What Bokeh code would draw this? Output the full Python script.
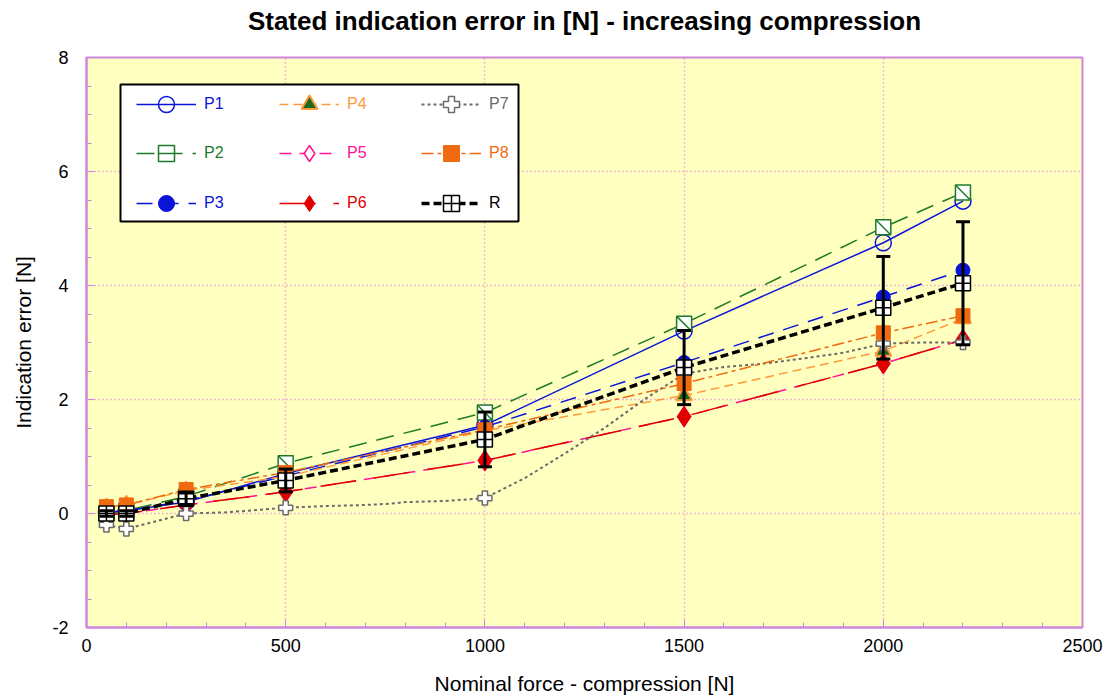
from bokeh.plotting import figure
from bokeh.models import (ColumnDataSource, Legend, LegendItem, Whisker, TeeHead,
                          BoxAnnotation, Range1d, FixedTicker, Label)
from bokeh.embed import file_html
from bokeh.resources import INLINE

# ---------------- data ----------------
force = [50, 100, 250, 500, 1000, 1500, 2000, 2200]
p1 = [0.02, 0.05, 0.20, 0.70, 1.55, 3.20, 4.75, 5.48]
p2 = [0.00, 0.05, 0.30, 0.88, 1.77, 3.33, 5.02, 5.63]
p3 = [0.02, 0.05, 0.22, 0.66, 1.52, 2.65, 3.80, 4.27]
p4 = [0.10, 0.15, 0.40, 0.65, 1.45, 2.07, 2.85, 3.42]
p5 = [-0.02, 0.00, 0.15, 0.38, 0.93, 1.70, 2.63, 3.05]
p6 = [-0.02, 0.00, 0.15, 0.38, 0.93, 1.70, 2.63, 3.05]
p7 = [-0.20, -0.27, 0.00, 0.10, 0.27, 2.45, 2.98, 3.00]
p8 = [0.12, 0.15, 0.42, 0.72, 1.47, 2.28, 3.17, 3.47]
r = [0.00, 0.00, 0.26, 0.58, 1.30, 2.56, 3.61, 4.04]
r_err = [0.05, 0.05, 0.10, 0.20, 0.48, 0.65, 0.90, 1.08]
# P7 curve as drawn
p7_curve_x = [50, 100, 250, 350, 500, 600, 700, 760, 800, 900, 1000, 1100, 1200,
              1300, 1400, 1500, 1600, 1700, 1800, 1900, 2000, 2100, 2200]
p7_curve_y = [-0.20, -0.27, 0.00, 0.02, 0.10, 0.13, 0.15, 0.17, 0.20, 0.22, 0.27,
              0.62, 1.05, 1.50, 2.00, 2.45, 2.57, 2.63, 2.72, 2.82, 2.98, 3.00, 3.00]

x_ticks = [0, 500, 1000, 1500, 2000, 2500]
y_ticks = [-2, 0, 2, 4, 6, 8]
title_text = "Stated indication error in [N] - increasing compression"

FONT = "Liberation Sans"
VIOLET = "#cc88dd"
GRID = "#dd77dd"

p = figure(width=1105, height=698, x_range=Range1d(0, 2500), y_range=Range1d(-2, 8),
           output_backend="svg", toolbar_location=None,
           min_border_left=86, min_border_right=23, min_border_top=57, min_border_bottom=71,
           background_fill_color="#ffffc0", border_fill_color="white")

p.outline_line_color = VIOLET
p.outline_line_width = 2

xt = FixedTicker(ticks=x_ticks, minor_ticks=list(range(0, 2501, 100)))
yt = FixedTicker(ticks=y_ticks, minor_ticks=[-2 + 0.5 * i for i in range(21)])
p.xaxis.ticker = xt
p.yaxis.ticker = yt
for ax in (p.xaxis, p.yaxis):
    ax.axis_line_color = VIOLET
    ax.axis_line_width = 2
    ax.major_tick_line_color = VIOLET
    ax.minor_tick_line_color = VIOLET
    ax.major_tick_in = 8
    ax.major_tick_out = 0
    ax.minor_tick_in = 5
    ax.minor_tick_out = 0
    ax.major_label_text_font = FONT
    ax.major_label_text_font_size = "18px"
    ax.major_label_text_color = "black"
    ax.axis_label_text_font = FONT
    ax.axis_label_text_font_size = "21px"
    ax.axis_label_text_font_style = "normal"
    ax.axis_label_text_color = "black"
p.xaxis.axis_label = "Nominal force - compression [N]"
p.yaxis.axis_label = "Indication error [N]"
p.yaxis.major_label_overrides = {-2: "-2"}
p.xaxis.major_label_standoff = 11
p.xaxis.axis_label_standoff = 17
p.yaxis.major_label_standoff = 18
p.yaxis.axis_label_standoff = 14

p.xgrid.ticker = FixedTicker(ticks=[500, 1000, 1500, 2000])
p.ygrid.ticker = FixedTicker(ticks=[0, 2, 4, 6])
for g in (p.xgrid, p.ygrid):
    g.grid_line_color = GRID
    g.grid_line_dash = "1 3"
    g.grid_line_width = 1.5

# title as a label in the panel above the frame
p.add_layout(Label(x=498, y=37, x_units="screen", y_units="screen", text=title_text,
                   text_align="center", text_baseline="middle", text_font=FONT,
                   text_font_size="26px", text_font_style="bold", text_color="black"),
             "above")

# ---------------- series ----------------
items = []

def add_series(label, ys, color, dash, width, markers, line_x=None, line_y=None):
    lx = force if line_x is None else line_x
    ly = ys if line_y is None else line_y
    rends = [p.line(lx, ly, line_color=color, line_dash=dash, line_width=width)]
    for m in markers:
        rends.append(p.scatter(force, ys, **m))
    items.append((label, color, rends))

BLUE = "#0a14d8"
GREEN = "#1e7a2a"
ORANGE = "#ff9a3c"
PINK = "#ff1493"
RED = "#e00000"
GREY = "#6b6b6b"
ORANGE2 = "#f06a10"

add_series("P1", p1, BLUE, "solid", 1.5,
           [dict(marker="circle", size=16, fill_color=None, line_color=BLUE, line_width=1.5)])
add_series("P2", p2, GREEN, "18 10", 1.5,
           [dict(marker="square", size=15, fill_color="white", line_color=GREEN, line_width=1.5),
            dict(marker="dash", size=20, angle=-0.785398, line_color=GREEN, line_width=1.5)])
add_series("P3", p3, BLUE, "16 10", 1.5,
           [dict(marker="circle", size=14, fill_color=BLUE, line_color=BLUE)])
add_series("P4", p4, ORANGE, "9 5", 1.5,
           [dict(marker="triangle", size=16, fill_color="#1c6a20", line_color=ORANGE, line_width=2)])
add_series("P5", p5, PINK, "12 8", 1.5,
           [dict(marker="diamond", size=20, fill_color="white", line_color=PINK, line_width=1.5)])
add_series("P6", p6, RED, "36 18", 1.5,
           [dict(marker="diamond", size=20, fill_color=RED, line_color=RED)])
add_series("P7", p7, GREY, "3 3", 2,
           [dict(marker="plus", size=14, fill_color="white", line_color=GREY, line_width=1.5)],
           line_x=p7_curve_x, line_y=p7_curve_y)
add_series("P8", p8, ORANGE2, "12 4 4 4", 1.5,
           [dict(marker="square", size=14, fill_color=ORANGE2, line_color=ORANGE2)])

src = ColumnDataSource(dict(x=force,
                            upper=[v + e for v, e in zip(r, r_err)],
                            lower=[v - e for v, e in zip(r, r_err)]))
wh = Whisker(source=src, base="x", upper="upper", lower="lower", line_color="black",
             line_width=3, level="glyph",
             upper_head=TeeHead(size=14, line_width=3, line_color="black"),
             lower_head=TeeHead(size=14, line_width=3, line_color="black"))
p.add_layout(wh)

add_series("R", r, "black", "8 4", 3.5,
           [dict(marker="square_cross", size=15, fill_color="white", line_color="black", line_width=1.5)])

# ---------------- legend ----------------
box = BoxAnnotation(left=34, right=432, bottom=406, top=543,
                    left_units="screen", right_units="screen",
                    bottom_units="screen", top_units="screen",
                    fill_color="white", fill_alpha=1.0, line_color="black",
                    line_width=2, line_alpha=1.0)
p.add_layout(box)

col_x = [50, 193, 335]
row_y = [503, 454, 404]
for i, (label, color, rends) in enumerate(items):
    c, rr = divmod(i, 3)
    lg = Legend(items=[LegendItem(label=label, renderers=rends)],
                location=(col_x[c], row_y[rr]), padding=0, margin=0,
                glyph_width=60, glyph_height=40, label_standoff=8,
                label_text_font=FONT, label_text_font_size="16px",
                label_text_color=color, background_fill_alpha=0,
                border_line_alpha=0, label_height=20)
    p.add_layout(lg, "center")

open("out.html", "w").write(file_html(p, INLINE))
